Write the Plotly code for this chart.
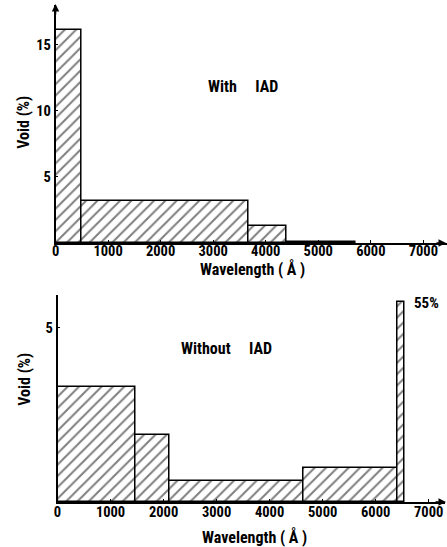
import plotly.graph_objects as go

# ---- data ----
top_edges = [0, 500, 3670, 4400, 5700]          # wavelength bin edges (Å)
top_void = [16.1, 3.2, 1.3, 0.04]               # void (%)
bot_edges = [0, 1470, 2120, 4640, 6410, 6540]
bot_void = [3.3, 1.93, 0.6, 0.96, 5.73]          # last bar broken (true value 55%)
bot_break_label = "55%"
x_ticks = [0, 1000, 2000, 3000, 4000, 5000, 6000, 7000]
top_yticks = [5, 10, 15]
bot_yticks = [5]

W, H = 447, 547
FONT = "Roboto Condensed, DejaVu Sans, sans-serif"

def px(x):
    return x / W

def py(y):
    return 1 - y / H

def bars(edges, vals, xa, ya):
    lefts = edges[:-1]
    widths = [edges[i + 1] - edges[i] for i in range(len(vals))]
    return go.Bar(
        x=lefts, y=vals, width=widths, offset=0,
        xaxis=xa, yaxis=ya,
        marker=dict(
            color="black",
            line=dict(color="black", width=1.5),
            pattern=dict(shape="/", size=8, solidity=0.25,
                         fgcolor="black", bgcolor="white", fillmode="overlay"),
        ),
        showlegend=False, hoverinfo="skip",
    )

fig = go.Figure()
fig.add_trace(bars(top_edges, top_void, "x", "y"))
fig.add_trace(bars(bot_edges, bot_void, "x2", "y2"))

tickfont = dict(family=FONT, size=14.5, color="black", weight="bold")
axcommon = dict(showgrid=False, zeroline=False, showline=True, linecolor="black",
                linewidth=1.5, ticks="inside", ticklen=3, tickcolor="black",
                tickfont=tickfont)

fig.update_layout(
    width=W, height=H,
    margin=dict(l=0, r=0, t=0, b=0),
    paper_bgcolor="white", plot_bgcolor="white",
    bargap=0,
    xaxis=dict(domain=[px(52), px(447)], range=[0, 7450], anchor="y",
               tickvals=x_ticks, ticklabelstandoff=-6, **axcommon),
    yaxis=dict(domain=[py(243), py(5)], range=[0, 18.0], anchor="x",
               tickvals=top_yticks, ticklabelstandoff=0, **axcommon),
    xaxis2=dict(domain=[px(54), px(445)], range=[0, 7308], anchor="y2",
                tickvals=x_ticks, ticklabelstandoff=-4, **axcommon),
    yaxis2=dict(domain=[py(502), py(295)], range=[0, 5.93], anchor="x2",
                tickvals=bot_yticks, ticklabelstandoff=0, **axcommon),
)

ann = []
def text(x, y, t, angle=0, size=15):
    ann.append(dict(x=px(x), y=py(y), xref="paper", yref="paper", text=t,
                    showarrow=False, textangle=angle,
                    font=dict(family=FONT, size=size, color="black", weight="bold"),
                    xanchor="center", yanchor="middle"))

text(251, 269, "Wavelength ( Å )", size=16)
text(253, 537, "Wavelength ( Å )", size=16)
text(20, 122, "Void (%)", angle=-90, size=16)
text(20, 379, "Void (%)", angle=-90, size=16)
text(241, 87, "With &nbsp;&nbsp;&nbsp;&nbsp;IAD", size=16)
text(225, 348, "Without &nbsp;&nbsp;&nbsp;&nbsp;IAD", size=16)
text(426, 303, bot_break_label, size=15)

# axis arrows
def arrow(x, y, axp, ayp):
    ann.append(dict(x=px(x), y=py(y), xref="paper", yref="paper", text="",
                    showarrow=True, ax=axp, ay=ayp, arrowhead=2, arrowsize=1,
                    arrowwidth=1.5, arrowcolor="black"))

arrow(447, 243, -12, 0)
arrow(52, 4, 0, 12)
arrow(446, 502, -12, 0)

fig.update_layout(annotations=ann)
fig.write_html("out.html")
